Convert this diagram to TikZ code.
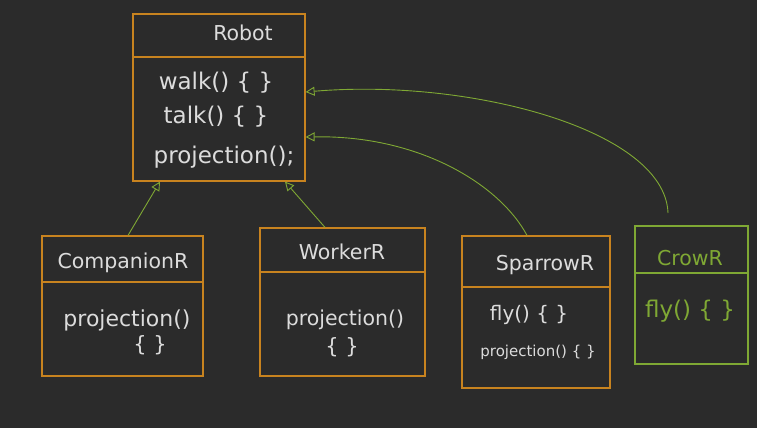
\documentclass[tikz,border=0pt]{standalone}
\usepackage{fontspec}
\setmainfont{DejaVu Sans}
\usetikzlibrary{arrows.meta}
\definecolor{bg}{HTML}{2B2B2B}
\definecolor{boxorange}{HTML}{C8831F}
\definecolor{linegreen}{HTML}{7FA834}
\definecolor{ink}{HTML}{DCDCDC}
\tikzset{
  cls/.style={draw=boxorange, line width=1.2pt, rectangle, inner sep=0pt},
  crowcls/.style={draw=linegreen, line width=1.2pt, rectangle, inner sep=0pt},
  divider/.style={draw=boxorange, line width=1.2pt},
  txt/.style={text=ink, font=\fontsize{21}{23}\selectfont, inner sep=0pt},
  bigtxt/.style={text=ink, font=\fontsize{23}{25}\selectfont, inner sep=0pt},
  smalltxt/.style={text=ink, font=\fontsize{15}{17}\selectfont, inner sep=0pt},
  ttl/.style={text=ink, font=\fontsize{20.5}{22}\selectfont, inner sep=0pt},
  inherit/.style={draw=linegreen, line width=0.9pt, -{Triangle[open, length=9pt, width=9pt]}},
}
\begin{document}
\begin{tikzpicture}[x=1pt,y=-1pt]
\fill[bg] (0,0) rectangle (757,428);
\useasboundingbox (0,0) rectangle (757,428);

% Robot
\node[cls, minimum width=172pt, minimum height=167pt] (robot) at (219,97.5) {};
\draw[divider] (133,57) -- (305,57);
\node[ttl] (robotT) at (243,33) {Robot};
\node[bigtxt] (walk) at (216,83) {walk() \{ \}};
\node[bigtxt] (talk) at (216,117) {talk() \{ \}};
\node[bigtxt] (proj) at (224,157) {projection();};

% CompanionR
\node[cls, minimum width=161pt, minimum height=140pt] (comp) at (122.5,306) {};
\draw[divider] (42,282) -- (203,282);
\node[ttl] (compT) at (123,263) {CompanionR};
\node[txt, font=\fontsize{22}{24}\selectfont] (compP) at (127,320) {projection()};
\node[txt] (compB) at (150,345) {\{ \}};

% WorkerR
\node[cls, minimum width=165pt, minimum height=148pt] (work) at (342.5,302) {};
\draw[divider] (260,272) -- (425,272);
\node[ttl] (workT) at (342,252) {WorkerR};
\node[txt, font=\fontsize{20.5}{22}\selectfont] (workP) at (345,320) {projection()};
\node[txt] (workB) at (342,347) {\{ \}};

% SparrowR
\node[cls, minimum width=148pt, minimum height=152pt] (spar) at (536,312) {};
\draw[divider] (462,287) -- (610,287);
\node[ttl] (sparT) at (545,265) {SparrowR};
\node[txt, font=\fontsize{20}{22}\selectfont] (sparF) at (529,315) {fly() \{ \}};
\node[smalltxt] (sparP) at (538,352) {projection() \{ \}};

% CrowR
\node[crowcls, minimum width=113pt, minimum height=138pt] (crow) at (691.5,295) {};
\draw[linegreen, line width=1.2pt] (635,273) -- (748,273);
\node[ttl, text=linegreen] (crowT) at (690,258) {CrowR};
\node[bigtxt, text=linegreen] (crowF) at (690,311) {fly() \{ \}};
\coordinate (crowtop) at (668,213);

% connectors
\draw[inherit] (comp.north -| 128,0) -- (robot.south -| 160,0);
\draw[inherit] (work.north -| 325,0) -- (robot.south -| 285,0);
\draw[inherit] (spar.north -| 527,0) .. controls (500,185) and (420,135) .. (robot.east |- 0,137);
\draw[inherit] (crowtop) .. controls (665,130) and (470,78) .. (robot.east |- 0,92);
\end{tikzpicture}
\end{document}
